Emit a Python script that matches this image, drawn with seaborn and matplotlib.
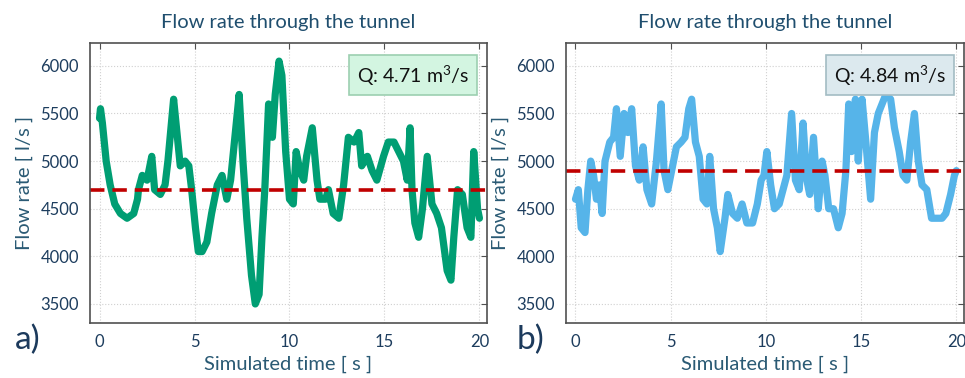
import numpy as np
import pandas as pd
import matplotlib.pyplot as plt
import seaborn as sns

# values
time_a = [0.0, 0.05, 0.15, 0.35, 0.56, 0.8, 1.1, 1.45, 1.8, 2.0, 2.05, 2.25, 2.5, 2.75, 2.9,
          3.2, 3.45, 3.6, 3.9, 4.05, 4.25, 4.5, 4.7, 4.85, 5.05, 5.2, 5.4, 5.65, 5.9, 6.2,
          6.45, 6.7, 6.9, 7.15, 7.35, 7.55, 7.75, 8.0, 8.2, 8.4, 8.55, 8.7, 8.9, 9.1, 9.25,
          9.45, 9.6, 9.8, 10.0, 10.2, 10.35, 10.55, 10.75, 10.9, 11.2, 11.45, 11.6, 11.9,
          12.05, 12.3, 12.6, 12.85, 13.1, 13.4, 13.65, 13.8, 14.1, 14.35, 14.6, 14.95, 15.2,
          15.5, 15.75, 16.0, 16.2, 16.35, 16.45, 16.6, 16.8, 17.0, 17.25, 17.5, 17.75, 18.0,
          18.3, 18.5, 18.65, 18.85, 19.1, 19.35, 19.55, 19.7, 19.9, 20.0]
flow_a = [5450, 5550, 5400, 5000, 4750, 4550, 4450, 4400, 4450, 4600, 4700, 4850, 4800, 5050, 4700,
          4650, 4750, 5000, 5650, 5350, 4950, 5000, 4950, 4700, 4300, 4050, 4050, 4150, 4450, 4750,
          4850, 4600, 4800, 5300, 5700, 5000, 4400, 3800, 3500, 3600, 4200, 4700, 5600, 5250, 5700,
          6050, 5900, 5100, 4600, 4550, 5100, 4900, 4800, 5050, 5350, 4800, 4600, 4600,
          4700, 4450, 4400, 4750, 5250, 5200, 5300, 4950, 5050, 4900, 4800, 5050, 5200,
          5200, 5100, 5000, 4800, 5350, 4700, 4350, 4200, 4500, 5050, 4550, 4450, 4300,
          3850, 3750, 4200, 4700, 4650, 4300, 4200, 5100, 4500, 4400]

time_b = [0.0, 0.15, 0.3, 0.5, 0.65, 0.8, 0.95, 1.1, 1.25, 1.4, 1.55, 1.8, 2.0, 2.15, 2.35,
          2.55, 2.75, 2.95, 3.15, 3.35, 3.55, 3.75, 4.0, 4.25, 4.5, 4.65, 4.85, 5.05, 5.3,
          5.55, 5.75, 5.95, 6.1, 6.3, 6.5, 6.7, 6.9, 7.05, 7.25, 7.45, 7.6, 7.85, 8.0, 8.25,
          8.5, 8.75, 9.0, 9.3, 9.55, 9.75, 9.9, 10.05, 10.25, 10.45, 10.7, 10.9, 11.1, 11.35,
          11.55, 11.75, 11.95, 12.15, 12.3, 12.5, 12.75, 12.95, 13.1, 13.3, 13.55, 13.8, 14.0,
          14.2, 14.35, 14.5, 14.7, 14.85, 15.05, 15.25, 15.5, 15.7, 15.9, 16.1, 16.3, 16.55,
          16.75, 17.0, 17.2, 17.4, 17.6, 17.8, 18.0, 18.2, 18.45, 18.7, 19.0, 19.25, 19.45,
          19.7, 19.9, 20.0]
flow_b = [4600, 4700, 4300, 4250, 4700, 5000, 4850, 4600, 4750, 4450, 5000, 5200, 5250, 5550, 5050,
          5500, 5300, 5550, 4950, 4800, 5150, 4700, 4550, 5000, 5600, 4900, 4700, 4900, 5150,
          5200, 5250, 5550, 5650, 5200, 5050, 4600, 4550, 5050, 4500, 4300, 4050, 4400, 4650, 4450,
          4400, 4550, 4350, 4350, 4550, 4800, 4850, 5100, 4750, 4500, 4550, 4700, 4850, 5500,
          4800, 4700, 5400, 4800, 4650, 5250, 4500, 5000, 4850, 4500, 4500, 4300, 4450,
          4900, 5600, 5100, 5650, 5000, 5650, 5200, 4600, 5300, 5500, 5600, 5700, 5650,
          5350, 5100, 4850, 4800, 5200, 5500, 5000, 4750, 4700, 4400, 4400, 4400, 4450,
          4650, 4850, 4900]

mean_a = 4700
mean_b = 4900
labels = ['a)', 'b)']
q_texts = ['Q: 4.71 m$^3$/s', 'Q: 4.84 m$^3$/s']

sns.set_style('white')
plt.rcParams['font.family'] = ['Lato', 'DejaVu Sans']
plt.rcParams['mathtext.fontset'] = 'custom'
plt.rcParams['mathtext.rm'] = 'Lato'

fig = plt.figure(figsize=(9.65, 3.78), dpi=100)
ax1 = fig.add_axes([0.0933, 0.1455, 0.4114, 0.7407])
ax2 = fig.add_axes([0.5865, 0.1455, 0.4124, 0.7407])

panels = [
    (ax1, time_a, flow_a, mean_a, '#009E73', '#d3f5e1', '#9ccfb0', -0.19),
    (ax2, time_b, flow_b, mean_b, '#56B4E9', '#dce9ee', '#a3bcc3', -0.125),
]

for i, (ax, t, f, m, col, box_fc, box_ec, lab_x) in enumerate(panels):
    df = pd.DataFrame({'time': t, 'flow': f})
    sns.lineplot(data=df, x='time', y='flow', ax=ax, color=col, lw=5.2)
    ax.axhline(m, color='#c00000', lw=2.6, ls=(0, (4, 2.2)))
    ax.set_xlim(-0.5, 20.4)
    ax.set_ylim(3300, 6240)
    ax.set_xticks([0, 5, 10, 15, 20])
    ax.set_yticks([3500, 4000, 4500, 5000, 5500, 6000])
    ax.grid(True, color='#d0d0d0', ls=':', lw=0.8)
    for s in ax.spines.values():
        s.set_color('#505050')
        s.set_linewidth(1.2)
    ax.tick_params(direction='in', length=4, color='#505050', top=True, right=True,
                   labelsize=12, labelcolor='#1d3d5e', pad=8)
    ax.set_title('Flow rate through the tunnel', fontsize=14.5, color='#1f4e6e', pad=11)
    ax.set_xlabel('Simulated time [ s ]', fontsize=14.5, color='#2a5a74', labelpad=4)
    ax.set_ylabel('Flow rate [ l/s ]', fontsize=14.5, color='#2a5a74', labelpad=5)
    ax.text(0.955, 0.93, q_texts[i], transform=ax.transAxes, ha='right', va='top',
            fontsize=14, color='#111111',
            bbox=dict(boxstyle='square,pad=0.4', fc=box_fc, ec=box_ec, lw=1.2))
    ax.text(lab_x, -0.005, labels[i], transform=ax.transAxes, ha='left', va='top',
            fontsize=24, color='#1c3a5c')

fig.savefig('out.png', dpi=100)
